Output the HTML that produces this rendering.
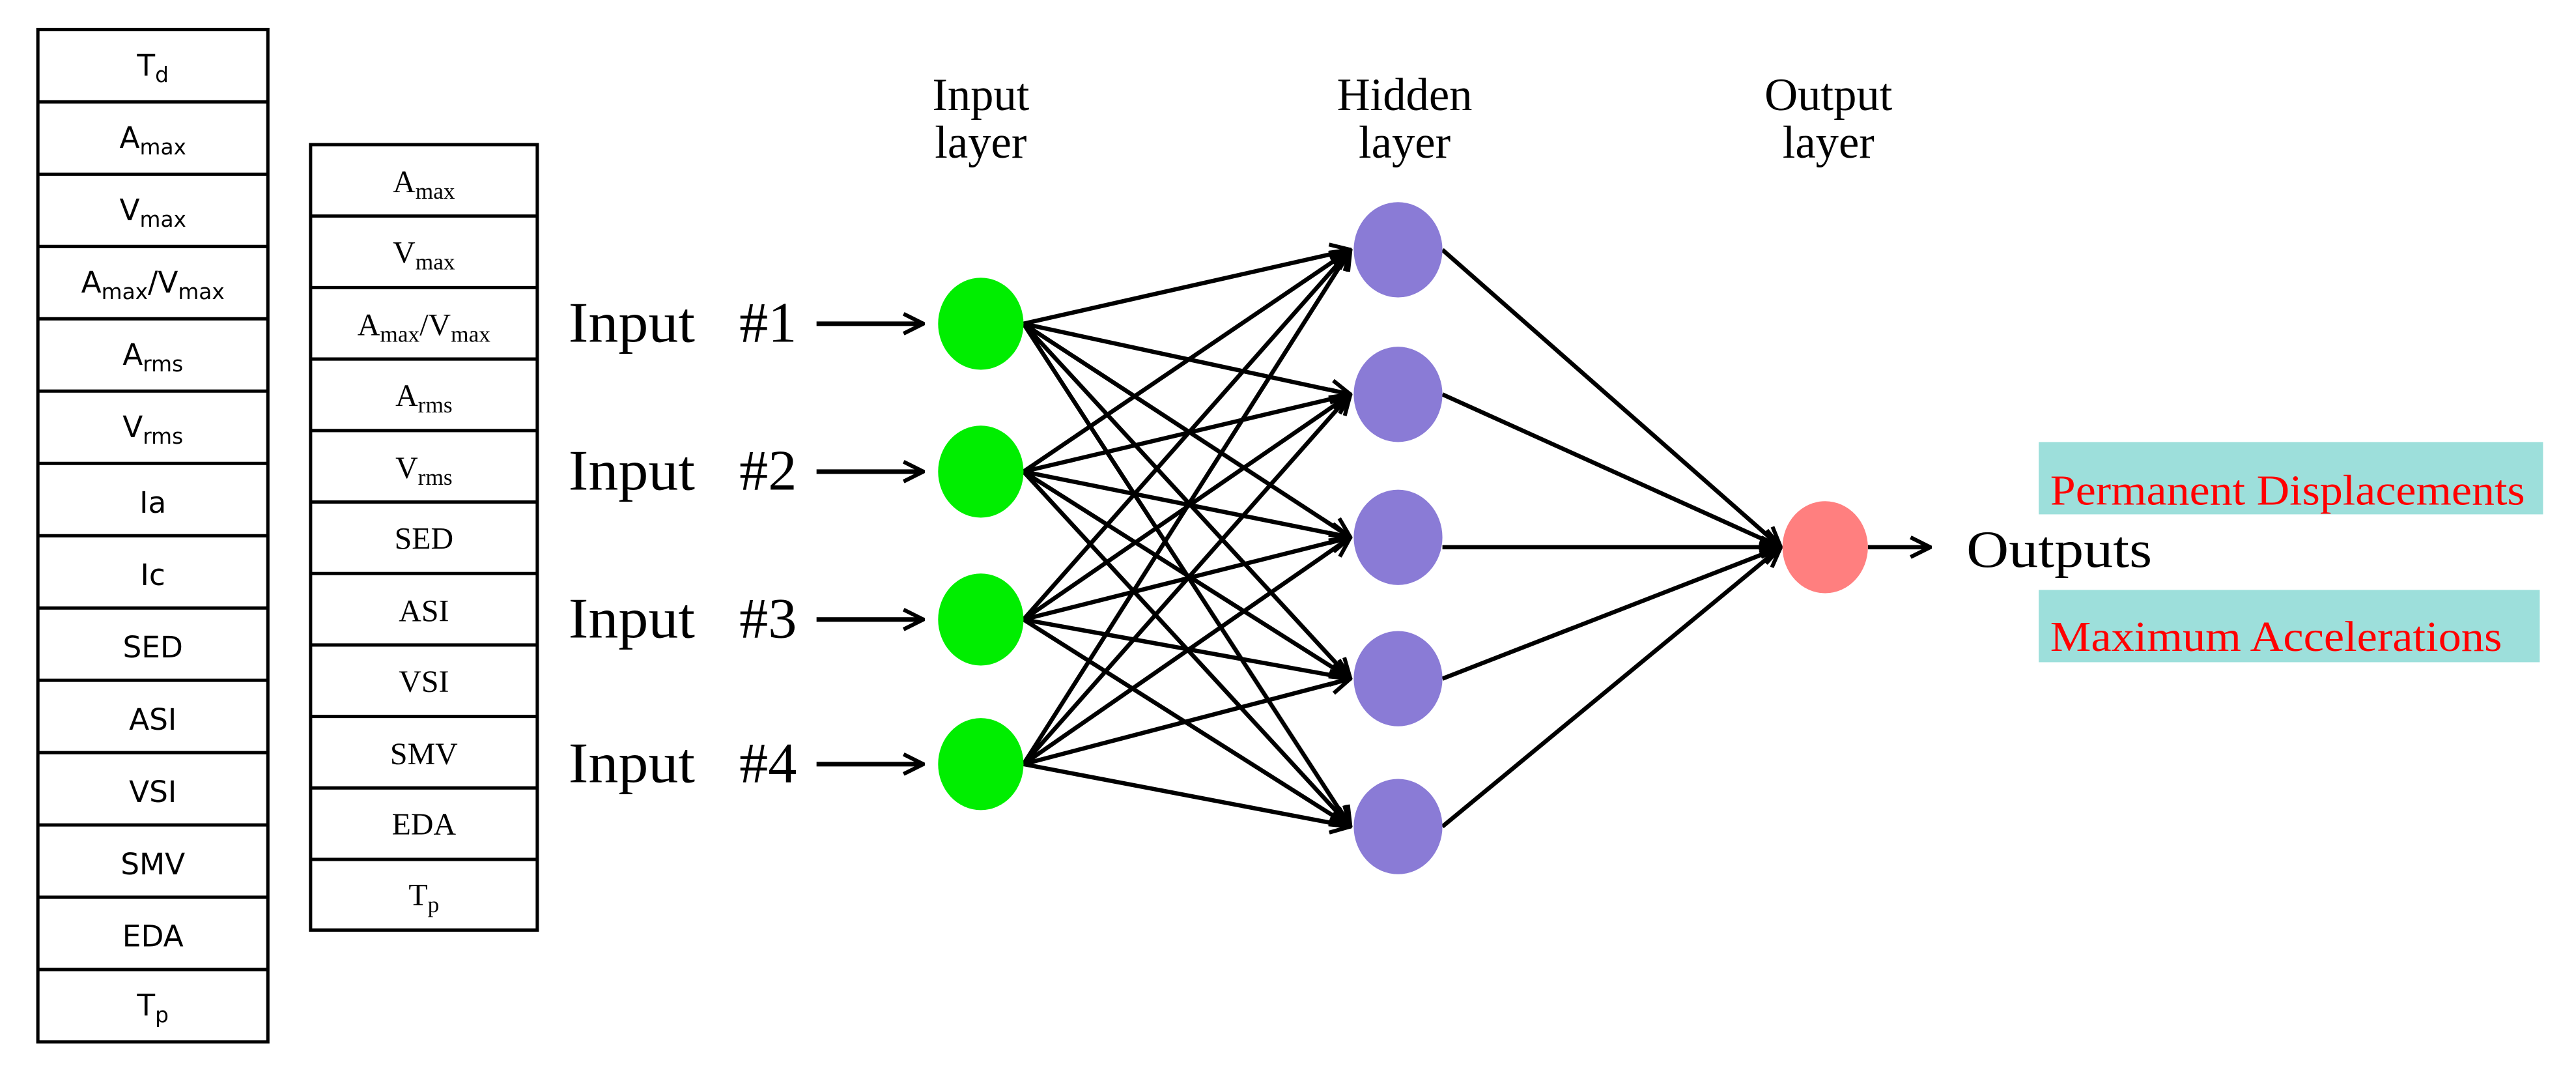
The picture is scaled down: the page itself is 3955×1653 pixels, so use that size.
<!DOCTYPE html>
<html><head><meta charset="utf-8"><style>html,body{margin:0;padding:0;background:#fff}svg{display:block}</style></head>
<body>
<svg width="3955" height="1653" viewBox="0 0 1568 655.4" xmlns="http://www.w3.org/2000/svg">
<defs>
<marker id="a" viewBox="0 0 14 14" refX="13" refY="7" markerWidth="14" markerHeight="14" markerUnits="userSpaceOnUse" orient="auto">
<path d="M1,1 L13,7 L1,13" fill="none" stroke="#000" stroke-width="2.4"/>
</marker>
</defs>
<rect width="1568" height="655.4" fill="#fff"/>
<!-- left table -->
<g stroke="#000" stroke-width="2" fill="none">
<rect x="23" y="18" width="140" height="616"/>
<line x1="23" y1="62" x2="163" y2="62"/><line x1="23" y1="106" x2="163" y2="106"/><line x1="23" y1="150" x2="163" y2="150"/><line x1="23" y1="194" x2="163" y2="194"/><line x1="23" y1="238" x2="163" y2="238"/><line x1="23" y1="282" x2="163" y2="282"/><line x1="23" y1="326" x2="163" y2="326"/><line x1="23" y1="370" x2="163" y2="370"/><line x1="23" y1="414" x2="163" y2="414"/><line x1="23" y1="458" x2="163" y2="458"/><line x1="23" y1="502" x2="163" y2="502"/><line x1="23" y1="546" x2="163" y2="546"/><line x1="23" y1="590" x2="163" y2="590"/>
</g>
<g font-family="'DejaVu Sans','Liberation Sans',sans-serif" font-size="18" text-anchor="middle" fill="#000">
<text x="93" y="46">T<tspan font-size="13" dy="4">d</tspan></text>
<text x="93" y="90">A<tspan font-size="13" dy="4">max</tspan></text>
<text x="93" y="134">V<tspan font-size="13" dy="4">max</tspan></text>
<text x="93" y="178">A<tspan font-size="13" dy="4">max</tspan><tspan dy="-4">/V</tspan><tspan font-size="13" dy="4">max</tspan></text>
<text x="93" y="222">A<tspan font-size="13" dy="4">rms</tspan></text>
<text x="93" y="266">V<tspan font-size="13" dy="4">rms</tspan></text>
<text x="93" y="312">Ia</text>
<text x="93" y="356">Ic</text>
<text x="93" y="400">SED</text>
<text x="93" y="444">ASI</text>
<text x="93" y="488">VSI</text>
<text x="93" y="532">SMV</text>
<text x="93" y="576">EDA</text>
<text x="93" y="618">T<tspan font-size="13" dy="4">p</tspan></text>
</g>
<!-- second table -->
<g stroke="#000" stroke-width="2" fill="none">
<rect x="189" y="88" width="138" height="478"/>
<line x1="189" y1="131.5" x2="327" y2="131.5"/><line x1="189" y1="175" x2="327" y2="175"/><line x1="189" y1="218.5" x2="327" y2="218.5"/><line x1="189" y1="262" x2="327" y2="262"/><line x1="189" y1="305.5" x2="327" y2="305.5"/><line x1="189" y1="349" x2="327" y2="349"/><line x1="189" y1="392.5" x2="327" y2="392.5"/><line x1="189" y1="436" x2="327" y2="436"/><line x1="189" y1="479.5" x2="327" y2="479.5"/><line x1="189" y1="523" x2="327" y2="523"/>
</g>
<g font-family="'Liberation Serif',serif" font-size="19" text-anchor="middle" fill="#000">
<text x="258" y="117">A<tspan font-size="14" dy="4">max</tspan></text>
<text x="258" y="160">V<tspan font-size="14" dy="4">max</tspan></text>
<text x="258" y="204">A<tspan font-size="14" dy="4">max</tspan><tspan dy="-4">/V</tspan><tspan font-size="14" dy="4">max</tspan></text>
<text x="258" y="247">A<tspan font-size="14" dy="4">rms</tspan></text>
<text x="258" y="291">V<tspan font-size="14" dy="4">rms</tspan></text>
<text x="258" y="334">SED</text>
<text x="258" y="378">ASI</text>
<text x="258" y="421">VSI</text>
<text x="258" y="465">SMV</text>
<text x="258" y="508">EDA</text>
<text x="258" y="551">T<tspan font-size="14" dy="4">p</tspan></text>
</g>
<!-- input labels -->
<g font-family="'Liberation Serif',serif" font-size="35" fill="#000">
<text x="346" y="208" textLength="77" lengthAdjust="spacingAndGlyphs">Input</text><text x="450" y="208">#1</text>
<text x="346" y="298" textLength="77" lengthAdjust="spacingAndGlyphs">Input</text><text x="450" y="298">#2</text>
<text x="346" y="388" textLength="77" lengthAdjust="spacingAndGlyphs">Input</text><text x="450" y="388">#3</text>
<text x="346" y="476" textLength="77" lengthAdjust="spacingAndGlyphs">Input</text><text x="450" y="476">#4</text>
</g>
<g stroke="#000" stroke-width="2.8" marker-end="url(#a)">
<line x1="497" y1="197" x2="562" y2="197"/>
<line x1="497" y1="287" x2="562" y2="287"/>
<line x1="497" y1="377" x2="562" y2="377"/>
<line x1="497" y1="465" x2="562" y2="465"/>
</g>
<!-- layer titles -->
<g font-family="'Liberation Serif',serif" font-size="28" fill="#000" text-anchor="middle">
<text x="597" y="67">Input</text><text x="597" y="96">layer</text>
<text x="855" y="67">Hidden</text><text x="855" y="96">layer</text>
<text x="1113" y="67">Output</text><text x="1113" y="96">layer</text>
</g>
<!-- connections -->
<g stroke="#000" stroke-width="2.6" marker-end="url(#a)">
<line x1="623" y1="197" x2="822" y2="152"/><line x1="623" y1="197" x2="822" y2="240"/><line x1="623" y1="197" x2="822" y2="327"/><line x1="623" y1="197" x2="822" y2="413"/><line x1="623" y1="197" x2="822" y2="503"/>
<line x1="623" y1="287" x2="822" y2="152"/><line x1="623" y1="287" x2="822" y2="240"/><line x1="623" y1="287" x2="822" y2="327"/><line x1="623" y1="287" x2="822" y2="413"/><line x1="623" y1="287" x2="822" y2="503"/>
<line x1="623" y1="377" x2="822" y2="152"/><line x1="623" y1="377" x2="822" y2="240"/><line x1="623" y1="377" x2="822" y2="327"/><line x1="623" y1="377" x2="822" y2="413"/><line x1="623" y1="377" x2="822" y2="503"/>
<line x1="623" y1="465" x2="822" y2="152"/><line x1="623" y1="465" x2="822" y2="240"/><line x1="623" y1="465" x2="822" y2="327"/><line x1="623" y1="465" x2="822" y2="413"/><line x1="623" y1="465" x2="822" y2="503"/>
<line x1="878" y1="152" x2="1084" y2="333"/><line x1="878" y1="240" x2="1084" y2="333"/><line x1="878" y1="333" x2="1084" y2="333"/><line x1="878" y1="413" x2="1084" y2="333"/><line x1="878" y1="503" x2="1084" y2="333"/>
<line x1="1137" y1="333" x2="1175" y2="333"/>
</g>
<!-- nodes -->
<g fill="#00ee00">
<ellipse cx="597" cy="197" rx="26" ry="28"/><ellipse cx="597" cy="287" rx="26" ry="28"/><ellipse cx="597" cy="377" rx="26" ry="28"/><ellipse cx="597" cy="465" rx="26" ry="28"/>
</g>
<g fill="#8a7bd6">
<ellipse cx="851" cy="152" rx="27" ry="29"/><ellipse cx="851" cy="240" rx="27" ry="29"/><ellipse cx="851" cy="327" rx="27" ry="29"/><ellipse cx="851" cy="413" rx="27" ry="29"/><ellipse cx="851" cy="503" rx="27" ry="29"/>
</g>
<ellipse cx="1111" cy="333" rx="26" ry="28" fill="#ff7f7f"/>
<text x="1197" y="345" font-family="'Liberation Serif',serif" font-size="32" fill="#000" textLength="113" lengthAdjust="spacingAndGlyphs">Outputs</text>
<rect x="1241" y="269" width="307" height="44" fill="#9ddfdb"/>
<rect x="1241" y="359" width="305" height="44" fill="#9ddfdb"/>
<g font-family="'Liberation Serif',serif" font-size="26" fill="#ff0000">
<text x="1248" y="307" textLength="289" lengthAdjust="spacingAndGlyphs">Permanent Displacements</text>
<text x="1248" y="396" textLength="275" lengthAdjust="spacingAndGlyphs">Maximum Accelerations</text>
</g>
</svg>
</body></html>
